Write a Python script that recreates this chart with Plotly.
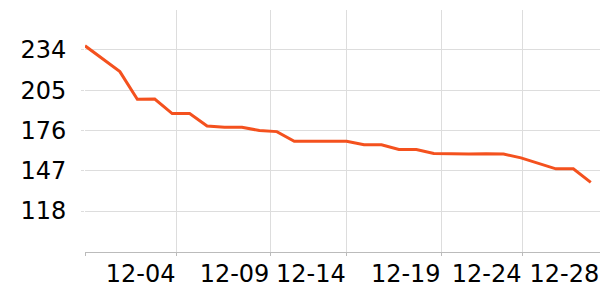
import plotly.graph_objects as go

dates = ["12-%02d" % d for d in range(1, 31)]
values = [237, 227.6, 218.4, 198.5, 198.7, 188.2, 188.2, 179.3, 178.4, 178.4,
          176.0, 175.2, 168.3, 168.3, 168.2, 168.3, 165.7, 165.7, 162.3, 162.3,
          159.4, 159.0, 159.0, 159.2, 159.0, 156.3, 152.4, 148.4, 148.4, 138.6]

x_tick_pos = [0, 5.25, 10.63, 15.01, 20.45, 25.09]
x_tick_text = ["", "12-04", "12-09", "12-14", "12-19", "12-24"]
x_edge_tick_pos = [29.52]
x_edge_tick_text = ["12-28"]
y_ticks = [118, 147, 176, 205, 234]
x_range = [0, 29.53]

x = list(range(len(values)))

fig = go.Figure()
fig.add_trace(go.Scatter(
    x=x, y=values, mode="lines", text=dates,
    line=dict(color="#f4511e", width=3),
    hovertemplate="%{text}: %{y}<extra></extra>",
))
# invisible helper trace so the overlay axis carrying the edge label is drawn
fig.add_trace(go.Scatter(
    x=[x[0]], y=[values[0]], xaxis="x2", mode="markers",
    marker=dict(opacity=0), hoverinfo="skip", showlegend=False,
))

font = dict(family="DejaVu Sans", size=24, color="#000")
fig.update_layout(
    width=600, height=300,
    margin=dict(l=85, r=0, t=10, b=48),
    paper_bgcolor="white", plot_bgcolor="white",
    showlegend=False,
    font=font,
    xaxis=dict(
        range=x_range, tickvals=x_tick_pos, ticktext=x_tick_text,
        tickangle=0,
        showgrid=True, gridcolor="#dddddd", gridwidth=1,
        zeroline=False, showline=True, linecolor="#bbbbbb", linewidth=1,
        ticks="outside", ticklen=3, tickcolor="#bbbbbb",
        ticklabelposition="outside left", tickfont=font,
    ),
    xaxis2=dict(
        overlaying="x", side="bottom", range=x_range,
        tickvals=x_edge_tick_pos, ticktext=x_edge_tick_text, tickangle=0,
        showgrid=False, zeroline=False, showline=False,
        ticks="outside", ticklen=3, tickcolor="rgba(0,0,0,0)",
        ticklabelposition="outside left", tickfont=font,
    ),
    yaxis=dict(
        range=[88.5, 262.8], tickvals=y_ticks,
        showgrid=True, gridcolor="#dddddd", gridwidth=1,
        zeroline=False, showline=False,
        ticks="outside", ticklen=3, tickcolor="#dddddd",
        ticklabelstandoff=10,
        tickfont=font,
    ),
)
fig.write_html("out.html")
